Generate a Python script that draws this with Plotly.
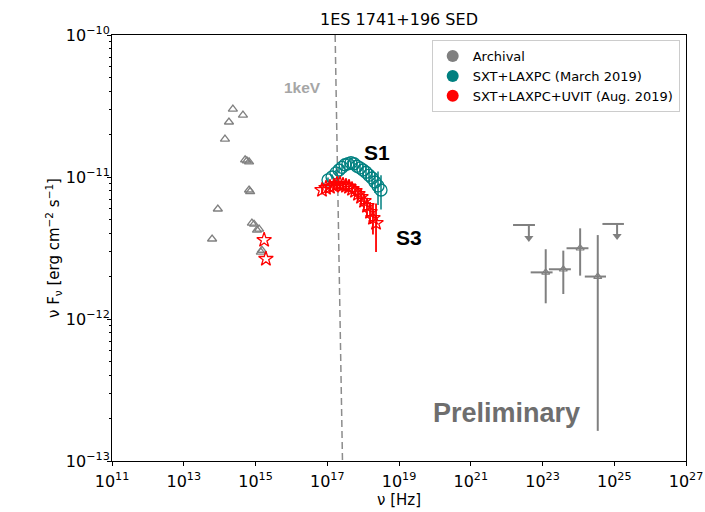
import plotly.graph_objects as go

# ---- Archival optical/UV points (open triangles) ----
arch_nu = [2.34e14, 4.47e14, 1.82e14, 1.41e14, 5.13e14, 5.75e14, 6.61e14, 6.61e14, 7.08e14,
           8.91e13, 7.94e14, 9.12e14, 1.10e15, 1.26e15, 6.17e13, 1.41e15, 1.51e15]
arch_f = [3.01e-11, 2.73e-11, 2.44e-11, 1.85e-11, 1.32e-11, 1.30e-11, 1.28e-11, 8.1e-12, 7.9e-12,
          5.95e-12, 4.74e-12, 4.65e-12, 4.23e-12, 4.30e-12, 3.66e-12, 2.96e-12, 3.05e-12]

# ---- Fermi-LAT bins (archival) ----
lat_nu = [1.23e23, 3.80e23, 1.12e24, 3.47e24]
lat_nu_lo = [4.68e22, 1.51e23, 4.68e23, 1.51e24]
lat_nu_hi = [1.91e23, 6.17e23, 1.91e24, 5.89e24]
lat_f = [2.13e-12, 2.24e-12, 3.15e-12, 1.99e-12]
lat_f_hi = [3.10e-12, 3.03e-12, 4.35e-12, 3.9e-12]
lat_f_lo = [1.29e-12, 1.50e-12, 2.02e-12, 1.63e-13]

# ---- Fermi-LAT upper limits ----
ul_nu = [3.02e22, 9.33e24]
ul_nu_lo = [1.51e22, 4.68e24]
ul_nu_hi = [6.17e22, 1.86e25]
ul_f = [4.59e-12, 4.67e-12]
ul_arrow_nu = [4.17e22, 1.20e25]
ul_arrow_tip = [3.72e-12, 3.84e-12]

# ---- SXT+LAXPC, March 2019 ----
mar_nu = [1.05e17, 1.36e17, 1.75e17, 2.13e17, 2.58e17, 3.13e17, 3.78e17, 4.59e17, 5.57e17,
          6.75e17, 8.18e17, 9.93e17, 1.20e18, 1.46e18, 1.77e18, 2.14e18, 2.60e18, 3.15e18]
mar_f = [9.53e-12, 1.00e-11, 1.07e-11, 1.12e-11, 1.17e-11, 1.22e-11, 1.24e-11, 1.26e-11, 1.24e-11,
         1.19e-11, 1.16e-11, 1.12e-11, 1.08e-11, 1.03e-11, 9.84e-12, 9.22e-12, 8.65e-12, 8.10e-12]
mar_err = [0.4e-12, 0.4e-12, 0.5e-12, 0.5e-12, 0.5e-12, 0.6e-12, 0.6e-12, 0.7e-12, 0.7e-12,
           0.8e-12, 0.8e-12, 0.9e-12, 1.0e-12, 1.1e-12, 1.3e-12, 1.5e-12, 2.3e-12, 2.2e-12]

# ---- SXT+LAXPC+UVIT, Aug. 2019 ----
aug_nu = [7.14e16, 9.23e16, 1.19e17, 1.54e17, 1.87e17, 2.27e17, 2.75e17, 3.33e17, 4.04e17,
          4.90e17, 5.94e17, 7.19e17, 8.73e17, 1.06e18, 1.28e18, 1.56e18, 1.88e18, 2.29e18]
aug_f = [8.09e-12, 8.37e-12, 8.51e-12, 8.65e-12, 8.93e-12, 8.93e-12, 8.79e-12, 8.65e-12, 8.51e-12,
         8.22e-12, 7.96e-12, 7.58e-12, 7.22e-12, 6.77e-12, 6.25e-12, 5.67e-12, 5.14e-12, 4.74e-12]
aug_err = [0.5e-12, 0.5e-12, 0.5e-12, 0.5e-12, 0.5e-12, 0.5e-12, 0.5e-12, 0.5e-12, 0.6e-12,
           0.6e-12, 0.6e-12, 0.7e-12, 0.7e-12, 0.8e-12, 0.9e-12, 1.0e-12, 1.2e-12, 1.78e-12]
uvit_nu = [1.74e15, 1.95e15]
uvit_f = [3.6e-12, 2.65e-12]

# 1 keV marker line ends
kev_nu = [1.66e17, 2.66e17]
kev_f = [1e-10, 1e-13]

# tick positions and labels
x_ticks = [1e11, 1e13, 1e15, 1e17, 1e19, 1e21, 1e23, 1e25, 1e27]
x_labels = ["10<sup>11</sup>", "10<sup>13</sup>", "10<sup>15</sup>", "10<sup>17</sup>",
            "10<sup>19</sup>", "10<sup>21</sup>", "10<sup>23</sup>", "10<sup>25</sup>",
            "10<sup>27</sup>"]
y_ticks = [1e-13, 1e-12, 1e-11, 1e-10]
y_labels = ["10<sup>−13</sup>", "10<sup>−12</sup>", "10<sup>−11</sup>", "10<sup>−10</sup>"]
y_minor = [2e-13, 3e-13, 4e-13, 5e-13, 6e-13, 7e-13, 8e-13, 9e-13,
           2e-12, 3e-12, 4e-12, 5e-12, 6e-12, 7e-12, 8e-12, 9e-12,
           2e-11, 3e-11, 4e-11, 5e-11, 6e-11, 7e-11, 8e-11, 9e-11]

GRAY = "#808080"
TEAL = "#008080"
RED = "#ff0000"
FONT = "DejaVu Sans"

fig = go.Figure()

# 1 keV dashed guide
fig.add_trace(go.Scatter(x=kev_nu, y=kev_f, mode="lines",
                         line=dict(color="#8c8c8c", width=1.5, dash="7px,4px"),
                         showlegend=False, hoverinfo="skip"))

# archival optical
fig.add_trace(go.Scatter(x=arch_nu, y=arch_f, mode="markers",
                         marker=dict(symbol="triangle-up-open", size=8, color=GRAY,
                                     line=dict(width=1.3)),
                         showlegend=False))

# LAT bins with errors
fig.add_trace(go.Scatter(
    x=lat_nu, y=lat_f, mode="markers",
    marker=dict(symbol="triangle-up-open", size=7, color=GRAY, line=dict(width=1.2)),
    error_x=dict(type="data", symmetric=False,
                 array=[h - c for h, c in zip(lat_nu_hi, lat_nu)],
                 arrayminus=[c - l for c, l in zip(lat_nu, lat_nu_lo)],
                 color=GRAY, thickness=2, width=0),
    error_y=dict(type="data", symmetric=False,
                 array=[h - c for h, c in zip(lat_f_hi, lat_f)],
                 arrayminus=[c - l for c, l in zip(lat_f, lat_f_lo)],
                 color=GRAY, thickness=2, width=0),
    showlegend=False))

# LAT upper limits: horizontal bar + downward arrow
fig.add_trace(go.Scatter(
    x=ul_nu, y=ul_f, mode="markers", marker=dict(size=1, color=GRAY, opacity=0),
    error_x=dict(type="data", symmetric=False,
                 array=[h - c for h, c in zip(ul_nu_hi, ul_nu)],
                 arrayminus=[c - l for c, l in zip(ul_nu, ul_nu_lo)],
                 color=GRAY, thickness=2, width=0),
    showlegend=False, hoverinfo="skip"))
for xa, f0, tip in zip(ul_arrow_nu, ul_f, ul_arrow_tip):
    fig.add_trace(go.Scatter(x=[xa, xa], y=[f0, tip], mode="lines",
                             line=dict(color=GRAY, width=2),
                             showlegend=False, hoverinfo="skip"))
fig.add_trace(go.Scatter(x=ul_arrow_nu, y=ul_arrow_tip, mode="markers",
                         marker=dict(symbol="triangle-down", size=8, color=GRAY),
                         showlegend=False, hoverinfo="skip"))

# March 2019 X-ray
fig.add_trace(go.Scatter(
    x=mar_nu, y=mar_f, mode="markers",
    marker=dict(symbol="circle-open", size=12, color=TEAL, line=dict(width=1.3)),
    error_y=dict(type="data", array=mar_err, color=TEAL, thickness=1.5, width=0),
    showlegend=False))

# August 2019 X-ray + UVIT
fig.add_trace(go.Scatter(
    x=aug_nu, y=aug_f, mode="markers",
    marker=dict(symbol="star-open", size=11, color=RED, line=dict(width=1.3)),
    error_y=dict(type="data", array=aug_err, color=RED, thickness=1.8, width=0),
    showlegend=False))
fig.add_trace(go.Scatter(
    x=uvit_nu, y=uvit_f, mode="markers",
    marker=dict(symbol="star-open", size=11, color=RED, line=dict(width=1.3)),
    showlegend=False))

# legend entries
for name, col in [("Archival", GRAY), ("SXT+LAXPC (March 2019)", TEAL),
                  ("SXT+LAXPC+UVIT (Aug. 2019)", RED)]:
    fig.add_trace(go.Scatter(x=[None], y=[None], mode="markers", name=name,
                             marker=dict(symbol="circle", size=8, color=col)))

axis_common = dict(
    type="log", showline=True, linecolor="black", linewidth=1, mirror=True,
    ticks="outside", ticklen=4, tickcolor="black", showgrid=False, zeroline=False,
    automargin=False, ticklabeloverflow="allow",
    tickfont=dict(family=FONT, size=16, color="black"),
)

fig.update_xaxes(range=[10.9999, 27.0001], tickvals=x_ticks, ticktext=x_labels,
                 ticklabelstandoff=2,
                 title=dict(text="ν [Hz]", font=dict(family=FONT, size=15, color="black"),
                            standoff=1),
                 **axis_common)
fig.update_yaxes(range=[-13, -10], tickvals=y_ticks, ticktext=y_labels, ticklabelstandoff=-6,
                 minor=dict(ticks="outside", ticklen=2.5, tickcolor="black", tickvals=y_minor),
                 title=dict(text="ν F<sub>ν</sub> [erg cm<sup>−2</sup> s<sup>−1</sup>]",
                            font=dict(family=FONT, size=15, color="black"), standoff=2),
                 **axis_common)

fig.add_annotation(x=18.39, y=-10.825, text="<b>S1</b>", showarrow=False,
                   font=dict(family="Liberation Sans", size=21, color="black"))
fig.add_annotation(x=19.28, y=-11.425, text="<b>S3</b>", showarrow=False,
                   font=dict(family="Liberation Sans", size=21, color="black"))
fig.add_annotation(x=16.30, y=-10.373, text="<b>1keV</b>", showarrow=False,
                   font=dict(family="Liberation Sans", size=15.5, color="#a6a6a6"))
fig.add_annotation(x=22.01, y=-12.662, text="<b>Preliminary</b>", showarrow=False,
                   font=dict(family="Liberation Sans", size=27, color="#6e6e6e"))

fig.update_layout(
    width=705, height=512,
    margin=dict(l=112, r=19, t=35, b=51),
    paper_bgcolor="white", plot_bgcolor="white",
    title=dict(text="1ES 1741+196 SED", x=0.566, xanchor="center", y=0.962, yanchor="middle",
               font=dict(family=FONT, size=16, color="black")),
    legend=dict(x=0.989, y=0.988, xanchor="right", yanchor="top",
                bgcolor="white", bordercolor="#cccccc", borderwidth=1,
                font=dict(family=FONT, size=13, color="black"),
                itemsizing="constant", tracegroupgap=0),
    font=dict(family=FONT),
)

fig.write_html("out.html")
